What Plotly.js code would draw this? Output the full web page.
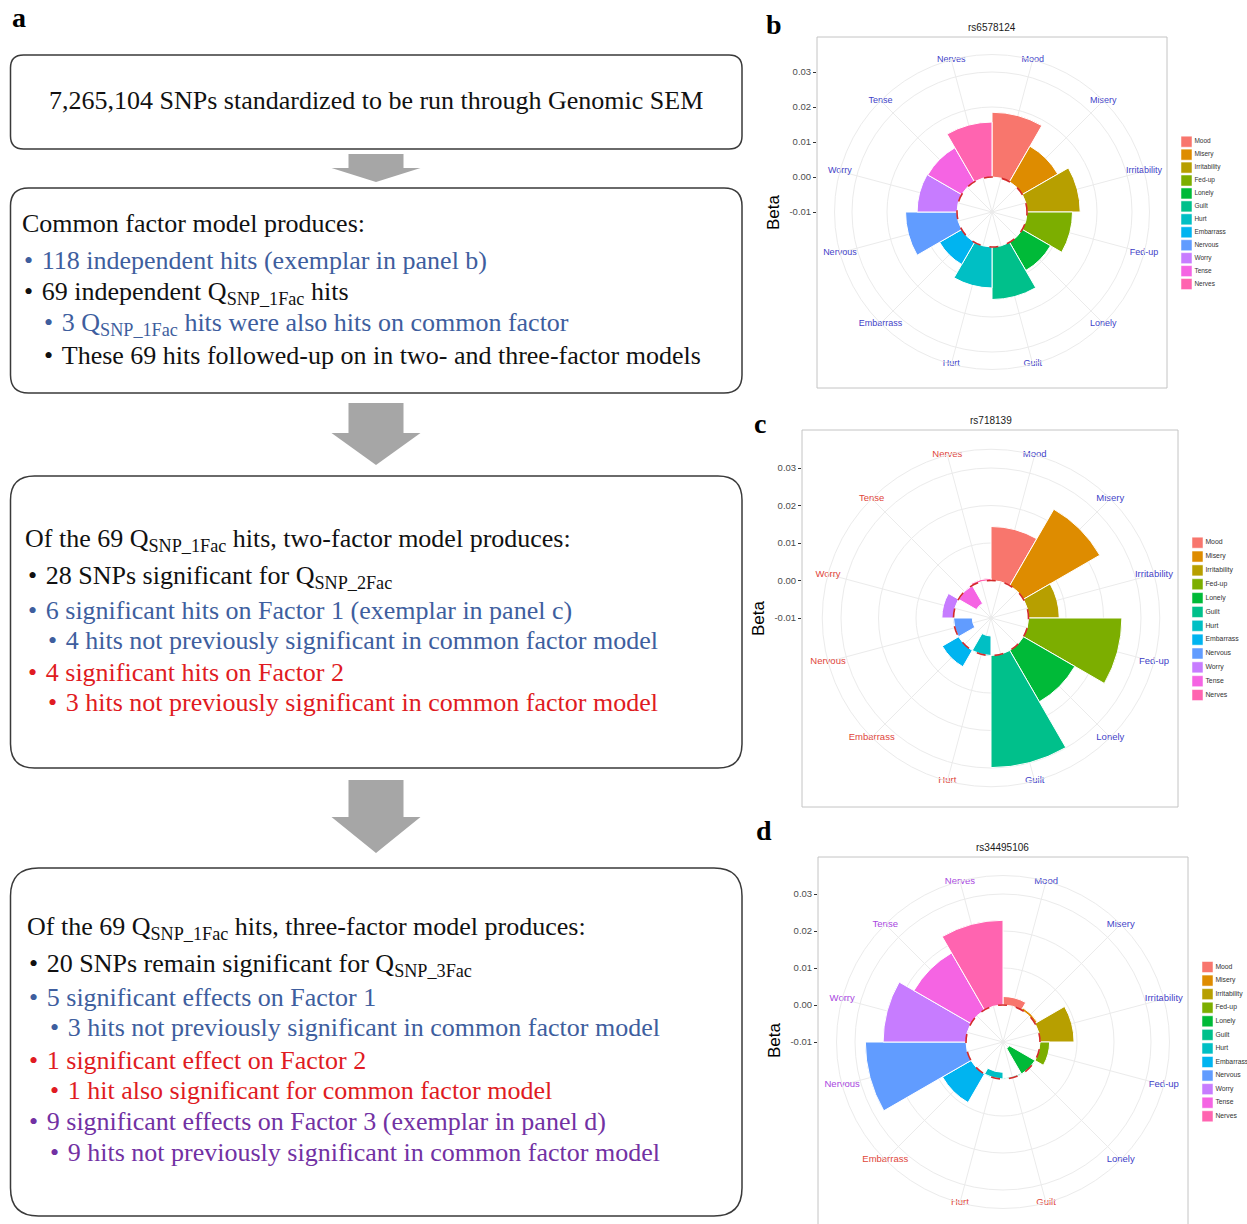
<!DOCTYPE html>
<html>
<head>
<meta charset="utf-8">
<script src="https://cdn.plot.ly/plotly-3.0.1.min.js"></script>
<style>html,body{margin:0;padding:0;background:#fff}#chart{width:1247px;height:1224px}</style>
</head>
<body>
<div id="chart"></div>
<script>
// ---------------- data ----------------
const categories = ['Mood','Misery','Irritability','Fed-up','Lonely','Guilt','Hurt','Embarrass','Nervous','Worry','Tense','Nerves'];
const barColors = ['#F8766D','#DE8C00','#B79F00','#7CAE00','#00BA38','#00C08B','#00BFC4','#00B4F0','#619CFF','#C77CFF','#F564E3','#FF64B0'];
const betaB = [0.0185, 0.0117, 0.0152, 0.0130, 0.0093, 0.0150, 0.0117, 0.0073, 0.0147, 0.0114, 0.0112, 0.0157];
const betaC = [0.0144, 0.0235, 0.0082, 0.0249, 0.0158, 0.0299, -0.0052, 0.0050, -0.0050, 0.0031, -0.0055, 0.0006];
const betaD = [0.0023, 0.0007, 0.0092, 0.0026, -0.0080, -0.0003, -0.0018, 0.0089, 0.0272, 0.0224, 0.0178, 0.0229];
const snpTitles = ['rs6578124', 'rs718139', 'rs34495106'];
const LB = '#3f3fc8', LR = '#e0453a', LP = '#a846e0';
const labelColorsB = [LB,LB,LB,LB,LB,LB,LB,LB,LB,LB,LB,LB];
const labelColorsC = [LB,LB,LB,LB,LB,LB,LR,LR,LR,LR,LR,LR];
const labelColorsD = [LB,LB,LB,LB,LB,LR,LR,LR,LP,LP,LP,LP];
const betaTicks = [-0.01, 0, 0.01, 0.02, 0.03];
const betaTickText = ['-0.01', '0.00', '0.01', '0.02', '0.03'];

// flowchart text
const BLK = '#111111', BLU = '#3e5e9e', RED = '#e01b22', PUR = '#7231a3';
const BUL = '\u2022 \u200A';
const box1Text = '7,265,104 SNPs standardized to be run through Genomic SEM';
const box2Lines = [
  ['Common factor model produces:', BLK, 0],
  [BUL + '118 independent hits (exemplar in panel b)', BLU, 1],
  [BUL + '69 independent Q<sub>SNP_1Fac</sub> hits', BLK, 1],
  [BUL + '3 Q<sub>SNP_1Fac</sub> hits were also hits on common factor', BLU, 2],
  [BUL + 'These 69 hits followed-up on in two- and three-factor models', BLK, 2]
];
const box3Lines = [
  ['Of the 69 Q<sub>SNP_1Fac</sub> hits, two-factor model produces:', BLK, 0],
  [BUL + '28 SNPs significant for Q<sub>SNP_2Fac</sub>', BLK, 1],
  [BUL + '6 significant hits on Factor 1 (exemplar in panel c)', BLU, 1],
  [BUL + '4 hits not previously significant in common factor model', BLU, 2],
  [BUL + '4 significant hits on Factor 2', RED, 1],
  [BUL + '3 hits not previously significant in common factor model', RED, 2]
];
const box4Lines = [
  ['Of the 69 Q<sub>SNP_1Fac</sub> hits, three-factor model produces:', BLK, 0],
  [BUL + '20 SNPs remain significant for Q<sub>SNP_3Fac</sub>', BLK, 1],
  [BUL + '5 significant effects on Factor 1', BLU, 1],
  [BUL + '3 hits not previously significant in common factor model', BLU, 2],
  [BUL + '1 significant effect on Factor 2', RED, 1],
  [BUL + '1 hit also significant for common factor model', RED, 2],
  [BUL + '9 significant effects on Factor 3 (exemplar in panel d)', PUR, 1],
  [BUL + '9 hits not previously significant in common factor model', PUR, 2]
];

// ---------------- layout geometry ----------------
const W = 1247, H = 1224;
const fx = px => px / W;
const fy = py => 1 - py / H;
const RMIN = -0.01, RMAX = 0.035;
const SANS = 'Liberation Sans, Arial, sans-serif';
const SERIF = 'Liberation Serif, Times New Roman, serif';

const panels = [
  {beta: betaB, lc: labelColorsB, title: snpTitles[0], letter: 'b', cx: 992, cy: 212, unit: 35,
   box: [817, 37, 1167, 388], titleY: 27, letterXY: [774, 24],
   leg: {left: 1181, top: 141.7, step: 12.94, size: 6.5}, labelSize: 9},
  {beta: betaC, lc: labelColorsC, title: snpTitles[1], letter: 'c', cx: 991, cy: 618, unit: 37.5,
   box: [802, 430, 1178, 807], titleY: 420, letterXY: [760, 423],
   leg: {left: 1192, top: 542.7, step: 13.85, size: 6.9}, labelSize: 9.5},
  {beta: betaD, lc: labelColorsD, title: snpTitles[2], letter: 'd', cx: 1003, cy: 1042, unit: 37,
   box: [818, 857, 1188, 1228], titleY: 847, letterXY: [764, 830],
   leg: {left: 1202, top: 967, step: 13.57, size: 6.8}, labelSize: 9.5}
];

const traces = [];
const layout = {
  width: W, height: H,
  margin: {l: 0, r: 0, t: 0, b: 0, pad: 0},
  paper_bgcolor: '#ffffff', plot_bgcolor: 'rgba(0,0,0,0)',
  showlegend: false,
  font: {family: SANS, color: '#222'},
  shapes: [], annotations: [],
  // flowchart pixel frame
  xaxis: {domain: [0, 1], range: [0, W], visible: false, fixedrange: true},
  yaxis: {domain: [0, 1], range: [H, 0], visible: false, fixedrange: true, anchor: 'x'}
};

panels.forEach((p, i) => {
  const k = i + 1;
  const pid = k === 1 ? 'polar' : 'polar' + k;
  const oid = 'polar' + (k + 3);
  const R = p.unit * (RMAX - RMIN) / 0.01;
  const dom = {x: [fx(p.cx - R), fx(p.cx + R)], y: [fy(p.cy + R), fy(p.cy - R)]};

  layout[pid] = {
    domain: dom, bgcolor: '#ffffff', bargap: 0,
    radialaxis: {range: [RMIN, RMAX], tickvals: betaTicks, showticklabels: false, ticks: '',
                 showline: false, gridcolor: '#ebebeb', gridwidth: 1},
    angularaxis: {type: 'category', categoryarray: categories, rotation: 75, direction: 'clockwise',
                  showticklabels: false, ticks: '', showline: true, linecolor: '#ebebeb',
                  gridcolor: '#ebebeb', gridwidth: 1}
  };
  layout[oid] = {
    domain: dom, bgcolor: 'rgba(0,0,0,0)',
    radialaxis: {range: [RMIN, RMAX], tickvals: [0], showticklabels: false, ticks: '',
                 showline: false, gridcolor: '#d42a2a', griddash: 'dash', gridwidth: 1.6},
    angularaxis: {type: 'category', categoryarray: categories, rotation: 75, direction: 'clockwise',
                  showticklabels: false, ticks: '', showline: false, showgrid: false}
  };

  traces.push({
    type: 'barpolar', subplot: pid, r: p.beta, theta: categories, base: 0,
    marker: {color: barColors, line: {color: '#ffffff', width: 1}},
    hoverinfo: 'theta+r'
  });
  traces.push({
    type: 'scatterpolar', subplot: pid, mode: 'text',
    r: categories.map(() => RMAX), theta: categories, text: categories,
    textfont: {size: p.labelSize, color: p.lc, family: SANS},
    textposition: 'middle center', cliponaxis: false, hoverinfo: 'skip'
  });
  traces.push({
    type: 'scatterpolar', subplot: oid, mode: 'none', r: p.beta, theta: categories, hoverinfo: 'skip'
  });

  // Beta axis (cartesian, aligned with radial scale)
  const xa = 'xaxis' + (k + 1), ya = 'yaxis' + (k + 1);
  const yTopPx = p.box[1], yBotPx = Math.min(p.box[3], H);
  layout[xa] = {domain: [fx(p.box[0]), fx(p.box[2])], range: [0, 1], visible: false, fixedrange: true, anchor: 'y' + (k + 1)};
  layout[ya] = {
    domain: [fy(yBotPx), fy(yTopPx)], anchor: 'x' + (k + 1),
    range: [RMIN - (yBotPx - p.cy) / p.unit * 0.01, RMIN + (p.cy - yTopPx) / p.unit * 0.01],
    tickmode: 'array', tickvals: betaTicks, ticktext: betaTickText,
    ticks: 'outside', ticklen: 3, tickcolor: '#333333', tickwidth: 1,
    tickfont: {size: 9.5, color: '#4d4d4d', family: SANS},
    showgrid: false, zeroline: false, showline: false, fixedrange: true,
    title: {text: 'Beta', font: {size: 17, color: '#000000', family: SANS}, standoff: 5}
  };
  traces.push({type: 'scatter', xaxis: 'x' + (k + 1), yaxis: 'y' + (k + 1), x: [], y: [], hoverinfo: 'skip'});

  // panel border
  layout.shapes.push({type: 'rect', xref: 'paper', yref: 'paper',
    x0: fx(p.box[0]), x1: fx(p.box[2]), y0: fy(p.box[3]), y1: fy(p.box[1]),
    line: {color: '#c4c4c4', width: 1}, fillcolor: 'rgba(0,0,0,0)', layer: 'above'});

  // title & letter
  layout.annotations.push({xref: 'paper', yref: 'paper', x: fx(p.cx), y: fy(p.titleY),
    text: p.title, showarrow: false, xanchor: 'center', yanchor: 'middle',
    font: {size: 10, color: '#1a1a1a', family: SANS}});
  layout.annotations.push({xref: 'paper', yref: 'paper', x: fx(p.letterXY[0]), y: fy(p.letterXY[1]),
    text: '<b>' + p.letter + '</b>', showarrow: false, xanchor: 'center', yanchor: 'middle',
    font: {size: 28, color: '#000000', family: SERIF}});

  // legend keys (category axis)
  const lx = 'xaxis' + (k + 4), ly = 'yaxis' + (k + 4);
  const L = p.leg;
  layout[lx] = {domain: [fx(L.left), fx(L.left + 11)], range: [-0.5, 0.5], visible: false, fixedrange: true, anchor: 'y' + (k + 4)};
  layout[ly] = {domain: [fy(L.top + 11.5 * L.step), fy(L.top - 0.5 * L.step)], type: 'category',
    categoryarray: categories, range: [11.5, -0.5], visible: false, fixedrange: true, anchor: 'x' + (k + 4)};
  traces.push({
    type: 'scatter', xaxis: 'x' + (k + 4), yaxis: 'y' + (k + 4),
    x: categories.map(() => 0), y: categories, mode: 'markers+text', text: categories,
    textposition: 'middle right', textfont: {size: L.size, color: '#333333', family: SANS},
    marker: {symbol: 'square', size: 11, color: barColors, line: {color: '#ffffff', width: 0.5}},
    cliponaxis: false, hoverinfo: 'skip'
  });
});

// ---------------- flowchart ----------------
function roundRect(x0, y0, x1, y1, r) {
  return `M${x0 + r},${y0} L${x1 - r},${y0} Q${x1},${y0} ${x1},${y0 + r} L${x1},${y1 - r} Q${x1},${y1} ${x1 - r},${y1} ` +
         `L${x0 + r},${y1} Q${x0},${y1} ${x0},${y1 - r} L${x0},${y0 + r} Q${x0},${y0} ${x0 + r},${y0} Z`;
}
function arrow(cx, yTop, yNeck, yTip) {
  const sw = 27.5, hw = 44.5;
  return `M${cx - sw},${yTop} L${cx + sw},${yTop} L${cx + sw},${yNeck} L${cx + hw},${yNeck} L${cx},${yTip} ` +
         `L${cx - hw},${yNeck} L${cx - sw},${yNeck} Z`;
}
const boxes = [[10.5, 55, 742, 149, 13], [10.5, 188, 742, 393, 18], [10.5, 476, 742, 768, 24], [10.5, 868, 742, 1216, 28]];
boxes.forEach(b => layout.shapes.push({type: 'path', xref: 'x', yref: 'y', path: roundRect(b[0], b[1], b[2], b[3], b[4]),
  line: {color: '#3a3a3a', width: 1.5}, fillcolor: 'rgba(0,0,0,0)'}));
[[154, 168, 182], [403, 433, 465], [780, 817, 853]].forEach(a => layout.shapes.push({type: 'path', xref: 'x', yref: 'y',
  path: arrow(376, a[0], a[1], a[2]), line: {width: 0}, fillcolor: '#a6a6a6'}));

const FS = 26;
layout.annotations.push({xref: 'x', yref: 'y', x: 376, y: 100, text: box1Text, showarrow: false,
  xanchor: 'center', yanchor: 'middle', font: {size: FS, color: BLK, family: SERIF}});
function addLines(lines, xs, ys) {
  lines.forEach((ln, j) => layout.annotations.push({xref: 'x', yref: 'y', x: xs[ln[2]], y: ys[j], text: ln[0],
    showarrow: false, xanchor: 'left', yanchor: 'middle', borderpad: 0,
    font: {size: FS, color: ln[1], family: SERIF}}));
}
addLines(box2Lines, [21, 23, 43], [223, 260, 293, 324, 355]);
addLines(box3Lines, [24, 27, 47], [540, 577, 610, 640, 672, 702]);
addLines(box4Lines, [26, 28, 49], [928, 965, 997, 1027, 1060, 1090, 1121, 1152]);
layout.annotations.push({xref: 'paper', yref: 'paper', x: fx(19), y: fy(18), text: '<b>a</b>', showarrow: false,
  xanchor: 'center', yanchor: 'middle', font: {size: 28, color: '#000', family: SERIF}});

Plotly.newPlot('chart', traces, layout, {staticPlot: true, displayModeBar: false});
</script>
</body>
</html>
